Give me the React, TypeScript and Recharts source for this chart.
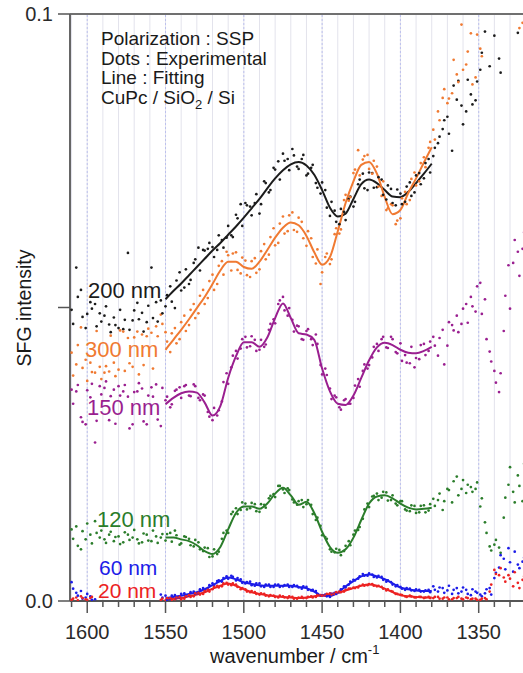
import React from 'react';
import { ComposedChart, Scatter, Line, XAxis, YAxis, CartesianGrid, ReferenceLine } from 'recharts';

const FONT = '"Liberation Sans", Arial, Helvetica, sans-serif';

// Wavenumbers of the first scan (cm^-1)
const wavenumbersA = [
  1610, 1607, 1604, 1601, 1598, 1595, 1592, 1589, 1586, 1583, 1580, 1577, 1574, 1571, 1568, 1565, 1562, 1559, 1556, 1553,
  1550, 1547, 1544, 1541, 1538, 1535, 1532, 1529, 1526, 1523, 1520, 1517, 1514, 1511, 1508, 1505, 1502, 1499, 1496, 1493,
  1490, 1487, 1484, 1481, 1478, 1475, 1472, 1469, 1466, 1463, 1460, 1457, 1454, 1451, 1448, 1445, 1442, 1439, 1436, 1433,
  1430, 1427, 1424, 1421, 1418, 1415, 1412, 1409, 1406, 1403, 1400, 1397, 1394, 1391, 1388, 1385, 1382,
  1379, 1376, 1373, 1370, 1367, 1364, 1361, 1358, 1355, 1352, 1349, 1346, 1343, 1340, 1337, 1334, 1331, 1328, 1325, 1322,
];
// Wavenumbers of the second scan (cm^-1)
const wavenumbersB = [
  1609, 1606, 1603, 1600, 1597, 1594, 1591, 1588, 1585, 1582, 1579, 1576, 1573, 1570, 1567, 1564, 1561, 1558, 1555, 1552,
  1549, 1546, 1543, 1540, 1537, 1534, 1531, 1528, 1525, 1522, 1519, 1516, 1513, 1510, 1507, 1504, 1501, 1498, 1495, 1492,
  1489, 1486, 1483, 1480, 1477, 1474, 1471, 1468, 1465, 1462, 1459, 1456, 1453, 1450, 1447, 1444, 1441, 1438, 1435, 1432,
  1429, 1426, 1423, 1420, 1417, 1414, 1411, 1408, 1405, 1402, 1399, 1396, 1393, 1390, 1387, 1384, 1381,
  1378, 1375, 1372, 1369, 1366, 1363, 1360, 1357, 1354, 1351, 1348, 1345, 1342, 1339, 1336, 1333, 1330, 1327, 1324, 1321,
];

// Wavenumbers of the fitted curves (cm^-1)
const fitWavenumbers = [
  1550, 1545, 1540, 1535, 1530, 1525, 1520, 1515, 1510, 1505, 1500, 1495, 1490, 1485, 1480, 1475, 1470, 1465,
  1460, 1455, 1450, 1445, 1440, 1435, 1430, 1425, 1420, 1415, 1410, 1405, 1400, 1395, 1390, 1385, 1380,
];

// Measured SFG intensity, in units of 1e-3 (scan A / scan B)
const dots200A = [
  49.6, 56.8, 53.0, 46.5, 50.9, 50.6, 49.0, 48.6, 47.1, 48.3, 46.5, 46.3, 59.3, 47.8, 50.8, 49.1, 47.5, 56.8, 50.9, 51.2,
  50.2, 53.6, 49.9, 56.0, 53.4, 54.0, 57.6, 60.2, 59.8, 60.0, 60.3, 59.8, 61.5, 61.9, 62.3, 65.8, 67.6, 67.8, 67.2, 67.8,
  66.0, 71.5, 69.6, 73.8, 74.9, 76.2, 75.3, 77.0, 74.0, 75.3, 72.5, 73.8, 71.2, 69.4, 70.0, 65.6, 66.5, 64.2, 66.3, 68.5,
  67.2, 71.0, 72.8, 70.0, 72.9, 70.5, 71.8, 68.4, 70.2, 67.4, 69.4, 68.0, 71.3, 69.6, 72.9, 72.0, 75.3,
  75.8, 78.0, 80.4, 82.5, 76.7, 85.4, 84.4, 83.4, 86.3, 85.3, 90.5, 97.0, 91.1, 96.3, 92.4, null, null, null, 96.8, null,
];
const dots200B = [
  47.2, 51.8, 48.4, 48.9, 49.8, 46.8, 47.6, 50.2, 45.8, 47.0, 49.6, 47.9, 46.2, 49.5, 48.0, 45.9, 50.3, 48.2, 47.6, 49.0,
  52.1, 51.0, 54.6, 52.9, 56.5, 54.7, 58.2, 56.3, 59.7, 61.0, 58.6, 62.3, 60.2, 63.9, 62.0, 65.2, 63.9, 67.4, 65.7, 69.3,
  67.6, 71.2, 70.0, 73.5, 71.8, 75.0, 73.4, 75.9, 73.6, 76.0, 72.8, 74.3, 70.4, 71.3, 67.0, 68.0, 64.6, 66.8, 64.9, 68.9,
  68.0, 71.8, 70.3, 73.0, 70.4, 72.2, 69.2, 70.8, 67.8, 70.1, 67.6, 70.6, 69.0, 72.5, 71.0, 74.6, 73.0,
  77.2, 79.1, 81.9, 79.6, 87.8, 88.6, 81.2, 88.8, 84.6, 88.5, 93.4, null, null, null, 90.0, null, null, null, null, null,
];
const dots300A = [
  42.3, 40.3, 46.6, 41.1, 40.6, 38.9, 39.9, 38.9, 39.1, 40.6, 39.4, 45.9, 44.8, 39.9, 45.9, 45.4, 45.1, 45.7, 46.8, 48.8,
  45.8, 42.4, 46.5, 44.6, 48.6, 47.0, 50.6, 49.0, 53.0, 51.6, 55.6, 54.0, 57.9, 59.5, 56.3, 59.4, 55.8, 58.0, 55.2, 58.4,
  56.5, 60.8, 59.0, 63.5, 61.0, 65.5, 63.0, 66.2, 62.9, 64.6, 60.5, 61.8, 57.5, 54.0, 58.6, 57.4, 62.5, 62.6, 68.3, 68.2,
  72.9, 76.8, 75.2, 76.0, 72.8, 74.0, 69.0, 66.6, 67.6, 64.2, 65.2, 69.7, 68.3, 73.0, 71.5, 75.6, 77.2,
  80.3, 83.4, 85.7, 84.8, 86.5, 89.7, 98.2, 91.4, 96.7, 89.2, 94.1, null, null, null, null, null, null, null, null, 98.5,
];
const dots300B = [
  38.4, 43.6, 39.7, 37.5, 39.0, 46.0, 37.8, 40.0, 45.2, 38.3, 46.1, 39.2, 40.5, 44.9, 38.6, 40.2, 46.4, 39.6, 45.1, 47.2,
  44.2, 45.6, 43.9, 47.5, 46.0, 49.6, 48.2, 52.0, 50.6, 54.5, 53.0, 57.1, 55.6, 58.9, 59.2, 56.4, 58.5, 55.5, 57.9, 55.9,
  59.6, 58.2, 62.0, 60.6, 64.3, 62.6, 65.7, 63.2, 65.3, 61.8, 63.0, 58.6, 59.9, 56.0, 59.2, 58.2, 63.5, 63.3, 69.2, 68.8,
  73.5, 72.5, 75.8, 73.6, 75.0, 70.6, 71.5, 66.9, 67.4, 64.8, 68.6, 67.6, 71.9, 70.8, 74.6, 73.9, 78.2,
  78.6, 81.9, 87.2, 85.6, 92.2, 88.4, 90.5, 93.6, 88.0, 96.5, 92.8, null, null, null, null, null, null, null, 97.6, null,
];
const dots150A = [
  36.0, 35.7, 31.3, 30.1, 34.7, 27.0, 36.6, 36.3, 30.8, 36.0, 36.6, 35.7, 34.8, 30.1, 35.7, 36.2, 30.1, 36.4, 36.9, 29.8,
  34.2, 33.0, 35.8, 36.4, 36.6, 35.0, 36.9, 34.6, 35.2, 32.2, 30.8, 31.6, 34.0, 38.8, 39.8, 42.6, 43.0, 45.0, 43.4, 44.5,
  42.8, 43.3, 46.2, 48.0, 50.6, 51.8, 48.6, 47.9, 46.9, 44.6, 46.0, 44.6, 45.4, 40.2, 39.6, 36.2, 35.0, 33.0, 34.2, 33.6,
  34.6, 37.8, 39.2, 39.6, 41.5, 43.8, 44.6, 43.2, 45.0, 42.4, 43.9, 41.9, 40.5, 39.8, 41.2, 43.8, 42.6,
  45.0, 41.8, 46.2, 43.5, 47.0, 48.6, 47.2, 50.6, 51.8, 49.3, 54.2, 51.4, 42.5, 39.2, 35.6, 46.0, 57.2, 57.6, 59.5, 60.0,
];
const dots150B = [
  33.6, 36.8, 30.5, 35.9, 37.0, 30.7, 35.2, 37.4, 34.9, 30.2, 35.0, 36.8, 29.4, 35.6, 37.1, 30.6, 35.0, 34.8, 30.9, 36.3,
  34.8, 33.5, 36.0, 34.6, 36.8, 34.9, 36.6, 34.2, 35.0, 31.4, 32.9, 32.5, 37.3, 37.0, 41.8, 41.3, 44.6, 43.2, 45.1, 42.6,
  44.5, 43.7, 47.2, 47.3, 51.2, 49.5, 49.9, 45.9, 46.8, 44.5, 46.3, 43.6, 43.8, 38.6, 38.5, 34.4, 34.7, 32.6, 34.4, 33.6,
  36.7, 36.5, 40.3, 40.2, 43.3, 42.6, 45.0, 43.1, 44.6, 42.2, 40.9, 40.6, 43.3, 41.4, 43.6, 41.9, 44.2,
  43.5, 44.8, 40.3, 47.5, 46.1, 45.8, 49.8, 47.4, 50.2, 53.6, 48.9, 44.6, 40.8, 37.2, 38.8, 52.0, 49.8, 61.5, 55.4, 62.8,
];
const dots120A = [
  12.2, 12.7, 8.8, 10.5, 11.3, 13.6, 10.8, 10.5, 11.3, 10.2, 11.0, 10.0, 11.3, 10.8, 10.5, 10.0, 11.3, 10.2, 11.0, 10.8,
  10.3, 11.6, 12.0, 9.6, 11.0, 10.6, 9.3, 10.0, 8.5, 9.0, 7.6, 8.0, 10.6, 12.0, 14.8, 15.8, 15.5, 16.6, 15.8, 16.5,
  15.2, 16.4, 17.5, 18.2, 19.6, 19.0, 19.2, 17.3, 16.4, 17.2, 16.5, 16.4, 13.8, 12.8, 10.9, 8.8, 8.3, 8.7, 8.5, 10.2,
  11.3, 12.1, 14.0, 16.6, 17.8, 18.3, 17.6, 18.5, 17.2, 16.6, 17.0, 15.6, 15.3, 16.2, 15.1, 16.3, 15.4,
  17.4, 17.2, 15.5, 19.1, 16.8, 21.2, 19.1, 18.4, 19.4, 19.1, 16.1, 13.4, 9.3, 9.6, 9.1, 14.2, 19.8, 18.6, 21.4, 17.0,
];
const dots120B = [
  10.6, 9.4, 11.9, 13.2, 9.8, 11.6, 12.0, 9.9, 11.8, 10.9, 9.7, 11.7, 10.4, 12.1, 9.8, 11.5, 10.3, 12.0, 9.9, 11.4,
  11.4, 10.1, 11.2, 9.8, 10.9, 9.5, 10.4, 8.8, 9.1, 7.5, 8.8, 8.4, 11.6, 11.6, 15.2, 14.8, 16.8, 15.6, 16.7, 15.3,
  16.5, 15.9, 17.9, 17.7, 19.6, 18.4, 18.9, 16.8, 17.0, 16.0, 17.2, 14.8, 14.2, 11.2, 10.6, 8.4, 8.9, 7.8, 9.4, 9.5,
  12.0, 12.6, 15.6, 16.0, 17.9, 17.2, 18.6, 17.1, 18.0, 16.3, 17.0, 15.4, 16.3, 15.0, 16.2, 15.1, 16.5,
  16.2, 18.3, 17.0, 18.9, 20.4, 18.0, 20.6, 19.8, 18.6, 20.2, 17.5, 11.6, 8.6, 10.4, 8.2, 17.6, 22.8, 16.8, 19.6, 23.4,
];
const dots60A = [
  3.2, 1.4, 1.7, 0.6, 0.8, 0.3, null, null, null, null, null, null, null, null, null, null, null, null, null, 1.1,
  0.9, 0.3, 1.0, 0.6, 1.3, 0.9, 1.6, 1.3, 2.2, 2.0, 3.0, 3.4, 3.3, 4.2, 4.3, 3.5, 3.7, 3.0, 3.3, 2.6,
  3.0, 2.4, 2.8, 2.4, 2.8, 2.5, 2.8, 2.4, 2.6, 2.1, 2.4, 1.8, 1.7, 0.9, 1.1, 0.7, 1.4, 1.5, 2.5, 2.8,
  3.6, 3.8, 4.6, 4.3, 4.5, 4.0, 4.1, 3.3, 3.2, 2.5, 2.4, 1.9, 2.1, 1.7, 1.9, 1.6, 1.9,
  2.5, 1.6, 2.2, 1.8, 1.2, 2.2, 1.6, 1.9, 1.0, 1.6, 1.1, 1.3, 2.2, 3.9, 5.7, 7.2, 9.0, 5.0, 6.2, 6.7,
];
const dots60B = [
  2.1, 0.9, 0.4, 1.2, 0.2, null, null, null, null, null, null, null, null, null, null, null, null, null, null, 0.6,
  0.2, 0.9, 0.5, 1.2, 0.8, 1.5, 1.2, 2.0, 1.8, 2.7, 2.6, 3.5, 3.9, 3.8, 4.1, 3.9, 3.1, 3.2, 2.7, 3.0,
  2.5, 2.8, 2.4, 2.8, 2.4, 2.7, 2.4, 2.7, 2.3, 2.5, 1.9, 1.9, 1.2, 1.0, 0.8, 1.2, 1.2, 2.0, 2.3, 3.3,
  3.5, 4.2, 4.3, 4.7, 4.1, 4.3, 3.6, 3.5, 2.8, 2.7, 2.1, 2.2, 1.8, 2.0, 1.6, 1.8, 1.5,
  1.9, 2.3, 1.4, 2.6, 1.9, 1.3, 2.3, 1.2, 2.0, 1.4, 0.8, 2.0, 1.1, 4.8, 7.8, 5.4, 6.6, 8.4, 5.6, 7.4,
];
const dots20A = [
  0.2, 0.6, 0.8, 0.3, 0.5, null, null, null, null, null, null, null, null, null, null, null, null, null, null, 0.2,
  0.1, 0.5, 0.3, 0.7, 0.4, 1.0, 0.8, 1.4, 1.2, 1.9, 2.0, 2.6, 2.5, 3.1, 2.7, 2.8, 2.0, 2.0, 1.5, 1.5,
  1.1, 1.2, 0.8, 0.9, 0.6, 0.8, 0.5, 0.7, 0.4, 0.7, 0.5, 0.8, 0.7, 1.0, 0.9, 1.3, 1.2, 1.6, 1.6, 2.1,
  2.3, 2.3, 2.8, 2.7, 2.9, 2.5, 2.4, 1.8, 1.7, 1.2, 1.1, 0.8, 0.9, 0.6, 0.7, 0.5, 0.7,
  0.5, 0.7, 0.4, 0.6, 0.3, 0.5, 0.4, 0.6, 0.3, 0.4, 0.2, 0.5, 1.6, 5.3, 4.4, 4.0, 4.4, 2.5, 3.1, 3.6,
];
const dots20B = [
  0.4, 0.1, 0.5, 0.2, 0.7, null, null, null, null, null, null, null, null, null, null, null, null, null, null, 0.4,
  0.5, 0.2, 0.6, 0.3, 0.8, 0.7, 1.3, 1.1, 1.7, 1.6, 2.4, 2.3, 3.0, 2.8, 3.0, 2.4, 2.2, 1.6, 1.7, 1.2,
  1.3, 0.9, 1.0, 0.7, 0.9, 0.6, 0.8, 0.4, 0.6, 0.5, 0.7, 0.6, 1.0, 0.9, 1.2, 1.1, 1.5, 1.5, 1.9, 2.1,
  2.2, 2.6, 2.6, 2.9, 2.6, 2.6, 2.1, 2.0, 1.6, 1.2, 1.0, 0.7, 0.8, 0.6, 0.7, 0.6, 0.5,
  0.7, 0.4, 0.6, 0.3, 0.5, 0.7, 0.3, 0.5, 0.4, 0.2, 0.4, 0.3, 2.8, 4.6, 5.6, 3.3, 3.8, 4.9, 2.2, 4.2,
];

// Fitted curves, in units of 1e-3
const fit200 = [
  51.4, 52.8, 54.1, 55.5, 56.9, 58.3, 59.7, 61.0, 62.4, 63.8, 65.3, 66.9, 68.5, 70.3, 72.0, 73.4, 74.4, 74.8,
  74.2, 72.6, 70.0, 67.0, 65.5, 66.0, 68.5, 71.0, 71.8, 71.2, 70.0, 68.9, 68.8, 69.7, 71.2, 72.8, 74.5,
];
const fit300 = [
  42.8, 44.5, 46.2, 48.0, 49.9, 51.8, 54.0, 56.3, 57.8, 57.8, 56.9, 56.6, 57.8, 59.8, 61.9, 63.6, 64.5, 64.0,
  62.2, 59.4, 57.3, 58.6, 63.0, 67.8, 71.5, 74.3, 74.8, 72.8, 68.8, 65.9, 66.6, 69.5, 72.0, 74.7, 77.3,
];
const fit150 = [
  33.5, 34.6, 35.4, 35.7, 35.5, 33.8, 31.6, 33.2, 38.0, 41.7, 44.1, 44.1, 43.3, 44.9, 48.2, 50.7, 48.2, 45.6,
  45.4, 44.5, 39.6, 35.7, 33.6, 33.4, 35.0, 38.0, 41.0, 43.2, 44.0, 43.6, 42.8, 42.3, 42.2, 42.6, 43.3,
];
const fit120 = [
  10.8, 10.8, 10.5, 10.2, 9.5, 8.5, 8.0, 9.2, 12.2, 15.0, 16.1, 16.1, 15.7, 16.6, 18.3, 19.3, 18.0, 16.4,
  16.9, 15.0, 11.8, 9.2, 8.2, 8.8, 10.8, 13.8, 16.6, 17.8, 18.0, 17.5, 16.6, 15.9, 15.6, 15.7, 15.9,
];
const fit60 = [
  0.5, 0.7, 0.9, 1.2, 1.5, 2.0, 2.7, 3.4, 4.0, 3.7, 3.2, 2.9, 2.7, 2.6, 2.6, 2.6, 2.6, 2.4,
  2.2, 1.6, 0.9, 0.9, 1.4, 2.5, 3.4, 4.2, 4.5, 4.2, 3.7, 3.0, 2.3, 2.0, 1.8, 1.7, 1.7,
];
const fit20 = [
  0.3, 0.4, 0.5, 0.8, 1.1, 1.5, 2.1, 2.6, 3.0, 2.6, 2.0, 1.5, 1.2, 1.0, 0.8, 0.7, 0.6, 0.5,
  0.6, 0.8, 1.0, 1.2, 1.4, 1.8, 2.2, 2.6, 2.8, 2.6, 2.1, 1.5, 1.0, 0.8, 0.7, 0.6, 0.6,
];

const thicknesses = ['200 nm', '300 nm', '150 nm', '120 nm', '60 nm', '20 nm'];
const colors = ['#1c1c1c', '#f07a32', '#9a1f90', '#2b7d2b', '#1c1ce8', '#ec2222'];
const scansA = [dots200A, dots300A, dots150A, dots120A, dots60A, dots20A];
const scansB = [dots200B, dots300B, dots150B, dots120B, dots60B, dots20B];
const fitSets = [fit200, fit300, fit150, fit120, fit60, fit20];

const xTicks = [1610, 1600, 1590, 1580, 1570, 1560, 1550, 1540, 1530, 1520, 1510, 1500, 1490, 1480, 1470, 1460, 1450,
  1440, 1430, 1420, 1410, 1400, 1390, 1380, 1370, 1360, 1350, 1340, 1330, 1320];
const majorTicks = [1600, 1550, 1500, 1450, 1400, 1350];
const yTicks = [0, 0.05, 0.1];

const SCALE = 1000;

const toPoints = (xs: number[], ys: (number | null)[]) =>
  xs
    .map((x, i) => ({ x, y: ys[i] == null ? null : (ys[i] as number) / SCALE }))
    .filter((p) => p.y !== null);

const XTick = (props: any) => {
  const { x, y, payload } = props;
  const v = payload.value;
  const major = majorTicks.includes(v);
  return (
    <g>
      <line x1={x} x2={x} y1={y} y2={y + (major ? 12 : 6)} stroke="#555" strokeWidth={1.5} />
      {major && (
        <text x={x} y={y + 38} textAnchor="middle" fontSize={20} fontFamily={FONT} fill="#2a2a2a">
          {v}
        </text>
      )}
    </g>
  );
};

const YTick = (props: any) => {
  const { x, y, payload } = props;
  const v = payload.value;
  const label = v === 0 ? '0.0' : v === 0.1 ? '0.1' : '';
  return (
    <g>
      <line x1={x - 12} x2={x} y1={y} y2={y} stroke="#555" strokeWidth={1.5} />
      {label && (
        <text x={x - 17} y={y + 7} textAnchor="end" fontSize={20} fontFamily={FONT} fill="#2a2a2a">
          {label}
        </text>
      )}
    </g>
  );
};

const dotShape = (color: string) => (p: any) =>
  p.cx == null || p.cy == null ? <g /> : <circle cx={p.cx} cy={p.cy} r={1.35} fill={color} />;

export default function App() {
  return (
    <div style={{ position: 'relative', width: 523, height: 673, overflow: 'hidden', background: '#fff' }}>
      <style>{'body{margin:0;overflow:hidden;background:#fff}'}</style>
      <ComposedChart width={600} height={673} margin={{ top: 14, right: 43, bottom: 0, left: 0 }}>
        <CartesianGrid vertical horizontal={false} stroke="#e3e3ec" strokeWidth={1} />
        {majorTicks.map((v) => (
          <ReferenceLine key={v} x={v} stroke="#bcc0ee" strokeDasharray="2 2" strokeWidth={1} />
        ))}
        <ReferenceLine y={0.1} stroke="#707070" strokeWidth={2} />
        <XAxis
          type="number"
          dataKey="x"
          domain={[1300, 1611]}
          reversed
          allowDataOverflow
          ticks={xTicks}
          interval={0}
          tickSize={0}
          tickMargin={0}
          tickLine={false}
          tick={<XTick />}
          height={72}
          axisLine={{ stroke: '#555', strokeWidth: 2 }}
        />
        <YAxis
          type="number"
          domain={[0, 0.1]}
          allowDataOverflow
          ticks={yTicks}
          interval={0}
          tickSize={0}
          tickMargin={0}
          tickLine={false}
          tick={<YTick />}
          width={70}
          axisLine={{ stroke: '#666', strokeWidth: 2 }}
        />
        {scansA.map((ys, i) => (
          <Scatter
            key={'a' + i}
            name={thicknesses[i] + ' scan A'}
            data={toPoints(wavenumbersA, ys)}
            dataKey="y"
            fill={colors[i]}
            shape={dotShape(colors[i])}
            isAnimationActive={false}
          />
        ))}
        {scansB.map((ys, i) => (
          <Scatter
            key={'b' + i}
            name={thicknesses[i] + ' scan B'}
            data={toPoints(wavenumbersB, ys)}
            dataKey="y"
            fill={colors[i]}
            shape={dotShape(colors[i])}
            isAnimationActive={false}
          />
        ))}
        {fitSets.map((ys, i) => (
          <Line
            key={'f' + i}
            name={thicknesses[i] + ' fit'}
            data={toPoints(fitWavenumbers, ys)}
            dataKey="y"
            type="monotone"
            stroke={colors[i]}
            strokeWidth={2}
            dot={false}
            activeDot={false}
            isAnimationActive={false}
          />
        ))}
      </ComposedChart>
      <svg
        width={523}
        height={673}
        style={{ position: 'absolute', left: 0, top: 0, pointerEvents: 'none' }}
        fontFamily={FONT}
      >
        <g fontSize={19} fill="#1a1a1a">
          <text x={101} y={45}>Polarization : SSP</text>
          <text x={101} y={64.5}>Dots : Experimental</text>
          <text x={101} y={84}>Line : Fitting</text>
          <text x={101} y={103.5}>
            CuPc / SiO<tspan dy={5} fontSize={13}>2</tspan>
            <tspan dy={-5}> / Si</tspan>
          </text>
        </g>
        <g fontSize={22}>
          <text x={88} y={298} fill={colors[0]}>{thicknesses[0]}</text>
          <text x={85} y={357} fill={colors[1]}>{thicknesses[1]}</text>
          <text x={87} y={415} fill={colors[2]}>{thicknesses[2]}</text>
          <text x={97} y={527} fill={colors[3]}>{thicknesses[3]}</text>
        </g>
        <g fontSize={21}>
          <text x={99} y={575} fill={colors[4]}>{thicknesses[4]}</text>
          <text x={98} y={598} fill={colors[5]}>{thicknesses[5]}</text>
        </g>
        <text
          x={31}
          y={308}
          transform="rotate(-90 31 308)"
          textAnchor="middle"
          fontSize={19.5}
          fill="#1a1a1a"
        >
          SFG intensity
        </text>
        <text x={210} y={663} fontSize={20} fill="#1a1a1a">
          wavenumber / cm<tspan dy={-9} fontSize={13}>-1</tspan>
        </text>
      </svg>
    </div>
  );
}
